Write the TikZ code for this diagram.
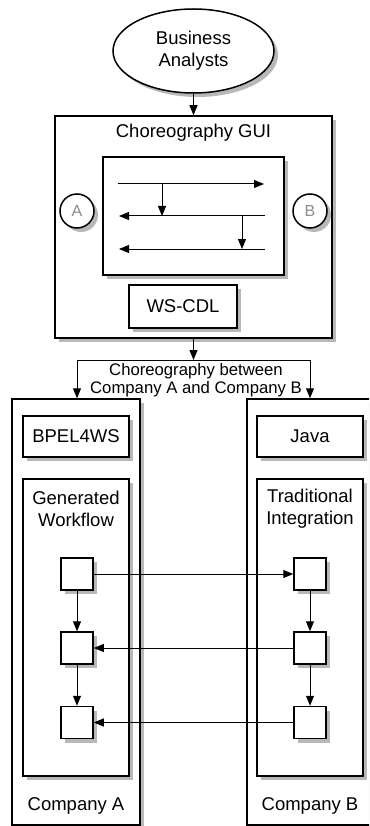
\documentclass[tikz,border=0pt]{standalone}
\usepackage{fontspec}
\setmainfont{Liberation Sans}
\usetikzlibrary{arrows.meta,shadows,shapes.geometric}
\tikzset{
	box/.style={draw, line width=1.5pt, fill=white, inner sep=0pt,
		drop shadow={shadow xshift=4pt, shadow yshift=-4pt, fill=black!28, opacity=1}},
	msg/.style={line width=1pt, -{Triangle[length=10pt,width=8pt]}},
	lbl/.style={font=\fontsize{18.5}{22}\selectfont, align=center, inner sep=0pt},
	partner/.style={circle, box, minimum size=34pt, text=black!45, font=\fontsize{16}{18}\selectfont},
	step box/.style={box, minimum width=32pt, minimum height=32pt},
}

\begin{document}
\begin{tikzpicture}[x=1pt, y=-1pt]
			%%%%% START %%%%%
			\clip (0, 0) rectangle (369, 826);
			
			\node[box, ellipse, minimum width=161pt, minimum height=84pt, lbl] (analysts) at (193.5, 51) {Business\\Analysts};
			
			\node[box, minimum width=277pt, minimum height=222pt] (gui) at (193.5, 227) {};
			\node[lbl] (guititle) at (193.5, 133) {Choreography GUI};
			\node[box, minimum width=181pt, minimum height=118pt] (canvas) at (193.5, 216) {};
			\node[box, minimum width=108pt, minimum height=43pt, lbl] (cdl) at (183, 306.5) {WS-CDL};
			\node[partner] (pa) at (77, 211) {A};
			\node[partner] (pb) at (310, 211) {B};
			
			\draw[msg] (analysts) -- (gui);
			
			% messages on the canvas
			\coordinate (m1s) at (118, 184);
			\coordinate (m1e) at (264, 184);
			\coordinate (m2s) at (265, 216);
			\coordinate (m2e) at (119, 216);
			\coordinate (m3s) at (265, 249);
			\coordinate (m3e) at (119, 249);
			\coordinate (d1) at (162, 184);
			\coordinate (d2) at (242, 216);
			\draw[msg] (m1s) -- (m1e);
			\draw[msg] (m2s) -- (m2e);
			\draw[msg] (m3s) -- (m3e);
			\draw[msg] (d1) -- (d1 |- m2s);
			\draw[msg] (d2) -- (d2 |- m3s);
			
			% the two companies
			\node[box, minimum width=128pt, minimum height=426pt] (compA) at (76, 612) {};
			\node[box, minimum width=128pt, minimum height=426pt] (compB) at (311, 612) {};
			\node[box, minimum width=106pt, minimum height=41pt, lbl] (bpel) at (76, 436.5) {BPEL4WS};
			\node[box, minimum width=106pt, minimum height=41pt, lbl] (java) at (310, 436.5) {Java};
			\node[box, minimum width=106pt, minimum height=297pt] (flowA) at (76, 627.5) {};
			\node[box, minimum width=106pt, minimum height=297pt] (flowB) at (310, 627.5) {};
			\node[lbl] (flowAtitle) at (76, 508.5) {Generated\\Workflow};
			\node[lbl] (flowBtitle) at (310, 508.5) {Traditional\\Integration};
			\node[lbl] (compAname) at (76, 806) {Company A};
			\node[lbl] (compBname) at (310, 806) {Company B};
			
			\coordinate (split) at (193.5, 360);
			\coordinate (splitL) at (77, 360);
			\coordinate (splitR) at (310, 360);
			\draw[msg] (gui) -- (split);
			\draw[line width=1pt] (splitL) -- (splitR);
			\draw[msg] (splitL) -- (splitL |- compA.north);
			\draw[msg] (splitR) -- (splitR |- compB.north);
			\node[lbl, font=\fontsize{16.7}{18}\selectfont, fill=white] (choreo) at (196, 380) {Choreography between\\Company A and Company B};
			
			\foreach \i/\y in {1/574, 2/648, 3/722.5} {
				\node[step box] (a\i) at (77, \y) {};
				\node[step box] (b\i) at (310, \y) {};
			}
			\draw[msg] (a1) -- (a2);
			\draw[msg] (a2) -- (a3);
			\draw[msg] (b1) -- (b2);
			\draw[msg] (b2) -- (b3);
			\draw[msg] (a1) -- (b1);
			\draw[msg] (b2) -- (a2);
			\draw[msg] (b3) -- (a3);
			%%%%% END %%%%%
\end{tikzpicture}
\end{document}
